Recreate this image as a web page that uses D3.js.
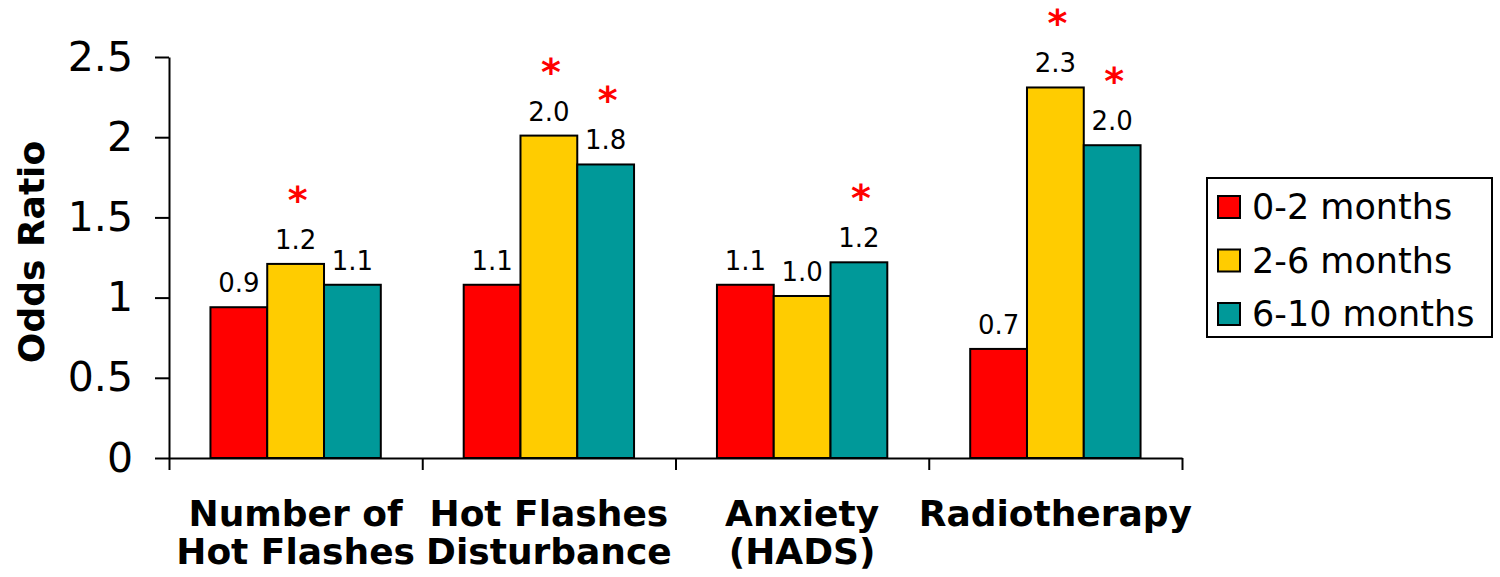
<!DOCTYPE html>
<html>
<head>
<meta charset="utf-8">
<script src="https://cdn.jsdelivr.net/npm/d3@7"></script>
<style>
  html, body { margin: 0; padding: 0; background: #ffffff; }
  svg { display: block; font-family: "DejaVu Sans", Verdana, sans-serif; }
</style>
</head>
<body>
<svg id="chart" width="1500" height="577"></svg>
<script>
// ---- data ----
const categories = [["Number of", "Hot Flashes"], ["Hot Flashes", "Disturbance"], ["Anxiety", "(HADS)"], ["Radiotherapy"]];
const seriesNames = ["0-2 months", "2-6 months", "6-10 months"];
const seriesColors = ["#ff0000", "#ffcc00", "#009999"];
const values0to2 = [0.94, 1.08, 1.08, 0.68];
const values2to6 = [1.21, 2.01, 1.01, 2.31];
const values6to10 = [1.08, 1.83, 1.22, 1.95];
const labels0to2 = ["0.9", "1.1", "1.1", "0.7"];
const labels2to6 = ["1.2", "2.0", "1.0", "2.3"];
const labels6to10 = ["1.1", "1.8", "1.2", "2.0"];
const signif0to2 = [false, false, false, false];
const signif2to6 = [true, true, false, true];
const signif6to10 = [false, true, true, true];
const yTickValues = [0, 0.5, 1, 1.5, 2, 2.5];
const yTickLabels = ["0", "0.5", "1", "1.5", "2", "2.5"];
const yTitle = "Odds Ratio";

const seriesValues = [values0to2, values2to6, values6to10];
const seriesLabels = [labels0to2, labels2to6, labels6to10];
const seriesSignif = [signif0to2, signif2to6, signif6to10];

// ---- layout ----
const svg = d3.select("#chart");
const plotLeft = 169, plotRight = 1182, plotTop = 57, plotBottom = 458;

// background glow on the left edge
const defs = svg.append("defs");
const rg = defs.append("radialGradient").attr("id", "glow")
  .attr("cx", 0).attr("cy", 0.5).attr("r", 0.5).attr("fx", 0).attr("fy", 0.5);
rg.append("stop").attr("offset", "0%").attr("stop-color", "#ffe28a").attr("stop-opacity", 1);
rg.append("stop").attr("offset", "40%").attr("stop-color", "#ffeeb8").attr("stop-opacity", 0.85);
rg.append("stop").attr("offset", "100%").attr("stop-color", "#ffffff").attr("stop-opacity", 0);
svg.append("ellipse").attr("cx", 0).attr("cy", 400).attr("rx", 90).attr("ry", 310)
  .attr("fill", "url(#glow)");

const y = d3.scaleLinear().domain([0, 2.5]).range([plotBottom, plotTop]);
const x0 = d3.scaleBand().domain(d3.range(categories.length)).range([plotLeft, plotRight]).padding(0);
const x1 = d3.scaleBand().domain(d3.range(seriesNames.length)).range([0, x0.bandwidth()])
  .paddingInner(0).paddingOuter(0.73);
const xIdx = d3.scaleLinear().domain([0, categories.length]).range([plotLeft, plotRight]);

// bars
const groups = svg.append("g").selectAll("g")
  .data(categories.map((c, i) => i))
  .join("g")
  .attr("transform", i => `translate(${x0(i)},0)`);

groups.selectAll("rect")
  .data(i => seriesValues.map((vals, s) => ({ s, v: vals[i] })))
  .join("rect")
  .attr("x", d => x1(d.s))
  .attr("y", d => y(d.v))
  .attr("width", x1.bandwidth())
  .attr("height", d => y(0) - y(d.v))
  .attr("fill", d => seriesColors[d.s])
  .attr("stroke", "#000")
  .attr("stroke-width", 2);

// value labels
groups.selectAll("text.val")
  .data(i => seriesValues.map((vals, s) => ({ s, v: vals[i], label: seriesLabels[s][i] })))
  .join("text")
  .attr("class", "val")
  .attr("x", d => x1(d.s) + x1.bandwidth() / 2)
  .attr("y", d => y(d.v) - 15)
  .attr("text-anchor", "middle")
  .attr("font-size", 26)
  .attr("fill", "#000")
  .text(d => d.label);

// significance asterisks
groups.selectAll("text.sig")
  .data(i => seriesValues.map((vals, s) => ({ s, v: vals[i], sig: seriesSignif[s][i] })).filter(d => d.sig))
  .join("text")
  .attr("class", "sig")
  .attr("x", d => x1(d.s) + x1.bandwidth() / 2 + 2)
  .attr("y", d => y(d.v) - 51)
  .attr("text-anchor", "middle")
  .attr("font-size", 38)
  .attr("font-weight", "bold")
  .attr("fill", "#ff0000")
  .text("*");

// y axis
const yAxis = svg.append("g")
  .attr("transform", `translate(${plotLeft},0)`)
  .call(d3.axisLeft(y).tickValues(yTickValues).tickSize(14).tickSizeOuter(0).tickPadding(22)
    .tickFormat((d, i) => yTickLabels[i]));
yAxis.selectAll("text").attr("font-size", 41).attr("fill", "#000").attr("font-family", "DejaVu Sans, Verdana, sans-serif");
yAxis.selectAll("line").attr("stroke", "#000").attr("stroke-width", 2);
yAxis.select(".domain").attr("stroke", "#000").attr("stroke-width", 2);

// x axis (ticks at category boundaries)
const xAxis = svg.append("g")
  .attr("transform", `translate(0,${plotBottom})`)
  .call(d3.axisBottom(xIdx).tickValues(d3.range(categories.length + 1)).tickSize(12).tickSizeOuter(0).tickFormat(""));
xAxis.selectAll("line").attr("stroke", "#000").attr("stroke-width", 2);
xAxis.select(".domain").attr("stroke", "#000").attr("stroke-width", 2);

// category labels
const catLabels = svg.append("g").selectAll("text")
  .data(categories.map((c, i) => ({ c, i })))
  .join("text")
  .attr("x", d => x0(d.i) + x0.bandwidth() / 2)
  .attr("y", 526)
  .attr("text-anchor", "middle")
  .attr("font-size", 36)
  .attr("font-weight", "bold")
  .attr("fill", "#000");
catLabels.selectAll("tspan")
  .data(d => d.c.map((line, k) => ({ line, k, x: x0(d.i) + x0.bandwidth() / 2 })))
  .join("tspan")
  .attr("x", d => d.x)
  .attr("dy", d => d.k === 0 ? 0 : 38)
  .text(d => d.line);

// y title
svg.append("text")
  .attr("transform", `translate(44,252) rotate(-90)`)
  .attr("text-anchor", "middle")
  .attr("font-size", 36)
  .attr("font-weight", "bold")
  .attr("fill", "#000")
  .text(yTitle);

// legend
const legend = svg.append("g");
legend.append("rect")
  .attr("x", 1207).attr("y", 178).attr("width", 285).attr("height", 159)
  .attr("fill", "#fff").attr("stroke", "#000").attr("stroke-width", 2);
const legendY = d3.scalePoint().domain(d3.range(seriesNames.length)).range([207, 314]);
const li = legend.selectAll("g.item").data(seriesNames.map((n, s) => ({ n, s })))
  .join("g").attr("class", "item")
  .attr("transform", d => `translate(1218,${legendY(d.s)})`);
li.append("rect").attr("x", 0).attr("y", -11).attr("width", 22).attr("height", 22)
  .attr("fill", d => seriesColors[d.s]).attr("stroke", "#000").attr("stroke-width", 2);
li.append("text").attr("x", 34).attr("y", 12)
  .attr("font-size", 35).attr("fill", "#000")
  .text(d => d.n);
</script>
</body>
</html>
